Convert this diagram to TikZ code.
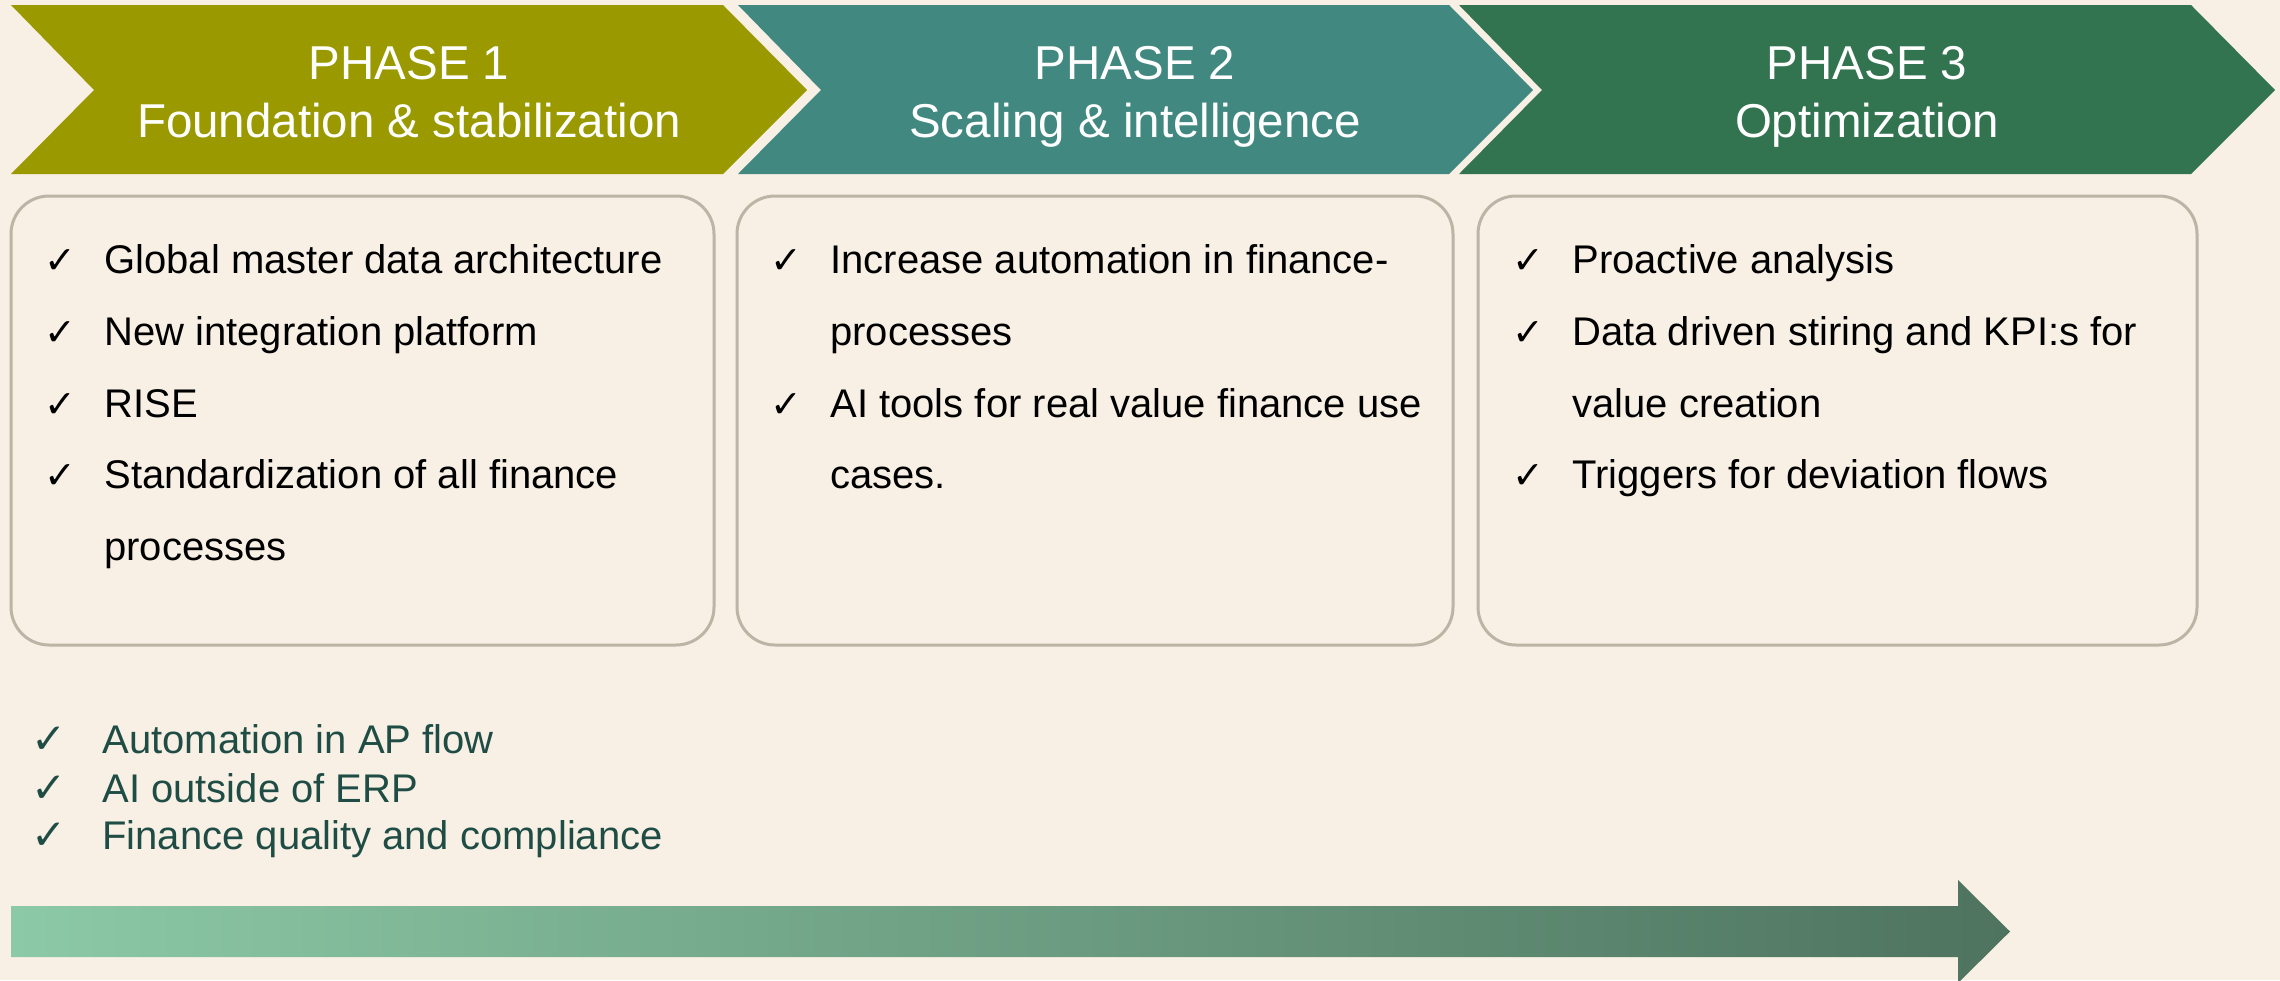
\documentclass[tikz,border=0pt]{standalone}
\usepackage{fontspec}
\setmainfont{Liberation Sans}
\newfontfamily\symfont{DejaVu Sans}
\definecolor{bgc}{HTML}{F8F0E4}
\definecolor{olivec}{HTML}{9A9A00}
\definecolor{tealc}{HTML}{418980}
\definecolor{greenc}{HTML}{327350}
\definecolor{boxline}{HTML}{BDB4A6}
\definecolor{listc}{HTML}{1F4D45}
\definecolor{arrL}{HTML}{8CC9A6}
\definecolor{arrR}{HTML}{4E735F}
\begin{document}
\begin{tikzpicture}[x=0.5pt,y=-0.5pt,
  headtxt/.style={text=white,inner sep=0pt,anchor=base,font=\fontsize{23.75pt}{29pt}\selectfont},
  bodytxt/.style={text=black,inner sep=0pt,anchor=base west,font=\fontsize{20pt}{24pt}\selectfont},
  chk/.style={text=black,inner sep=0pt,anchor=base west,font=\symfont\fontsize{19pt}{22pt}\selectfont},
  listtxt/.style={text=listc,inner sep=0pt,anchor=base west,font=\fontsize{20pt}{24pt}\selectfont},
  listchk/.style={text=listc,inner sep=0pt,anchor=base west,font=\symfont\fontsize{21pt}{24pt}\selectfont},
  cardbox/.style={draw=boxline,line width=1.5pt,fill=bgc,rounded corners=19pt}]
\fill[bgc] (0,0) rectangle (2280,980);
\useasboundingbox (0,0) rectangle (2280,980);
% chevrons
\fill[olivec] (11,5) -- (723,5) -- (807,90) -- (723,174) -- (11,174) -- (94,90) -- cycle;
\fill[tealc] (738,5) -- (1449,5) -- (1533,90) -- (1449,174) -- (738,174) -- (821,90) -- cycle;
\fill[greenc] (1459,5) -- (2191,5) -- (2275,90) -- (2191,174) -- (1459,174) -- (1542,90) -- cycle;
\node[headtxt] (h1a) at (409,79) {PHASE 1};
\node[headtxt] (h1b) at (409,137) {Foundation \& stabilization};
\node[headtxt] (h2a) at (1135,79) {PHASE 2};
\node[headtxt] (h2b) at (1135,137) {Scaling \& intelligence};
\node[headtxt] (h3a) at (1867,79) {PHASE 3};
\node[headtxt] (h3b) at (1867,137) {Optimization};
% cards
\draw[cardbox] (11,196) rectangle (714,645);
\draw[cardbox] (737,196) rectangle (1453,645);
\draw[cardbox] (1478,196) rectangle (2197,645);
% card 1
\node[chk] (c1a) at (44,273) {✓};
\node[bodytxt] (t1a) at (104,273) {Global master data architecture};
\node[chk] (c1b) at (44,345) {✓};
\node[bodytxt] (t1b) at (104,345) {New integration platform};
\node[chk] (c1c) at (44,417) {✓};
\node[bodytxt] (t1c) at (104,417) {RISE};
\node[chk] (c1d) at (44,488) {✓};
\node[bodytxt] (t1d) at (104,488) {Standardization of all finance};
\node[bodytxt] (t1e) at (104,560) {processes};
% card 2
\node[chk] (c2a) at (770,273) {✓};
\node[bodytxt] (t2a) at (830,273) {Increase automation in finance-};
\node[bodytxt] (t2b) at (830,345) {processes};
\node[chk] (c2c) at (770,417) {✓};
\node[bodytxt] (t2c) at (830,417) {AI tools for real value finance use};
\node[bodytxt] (t2d) at (830,488) {cases.};
% card 3
\node[chk] (c3a) at (1512,273) {✓};
\node[bodytxt] (t3a) at (1572,273) {Proactive analysis};
\node[chk] (c3b) at (1512,345) {✓};
\node[bodytxt] (t3b) at (1572,345) {Data driven stiring and KPI:s for};
\node[bodytxt] (t3c) at (1572,417) {value creation};
\node[chk] (c3d) at (1512,488) {✓};
\node[bodytxt] (t3d) at (1572,488) {Triggers for deviation flows};
% bottom list
\node[listchk] (l1c) at (31,753) {✓};
\node[listtxt] (l1) at (102,753) {Automation in AP flow};
\node[listchk] (l2c) at (31,802) {✓};
\node[listtxt] (l2) at (102,802) {AI outside of ERP};
\node[listchk] (l3c) at (31,849) {✓};
\node[listtxt] (l3) at (102,849) {Finance quality and compliance};
% gradient arrow
\shade[left color=arrL,right color=arrR] (11,906) -- (1958,906) -- (1958,880) -- (2010,931.5) -- (1958,983) -- (1958,957) -- (11,957) -- cycle;
\end{tikzpicture}
\end{document}
